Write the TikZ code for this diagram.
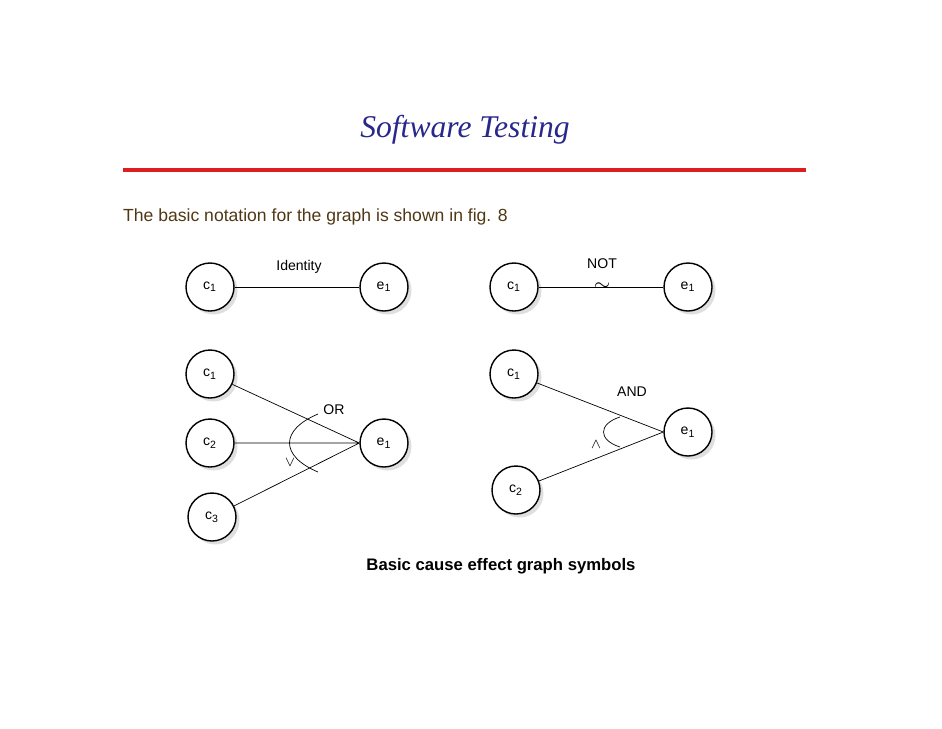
\documentclass[tikz,border=0pt]{standalone}
\usepackage{fontspec}
\setmainfont{Liberation Sans}
\newfontfamily\titlefont{Liberation Serif}
\usetikzlibrary{shadows, positioning}
\definecolor{titleblue}{RGB}{40,40,140}
\definecolor{notered}{RGB}{220,30,30}
\definecolor{introbrown}{RGB}{80,55,20}

\begin{document}
\begin{tikzpicture}[x=0.02cm, y=-0.02cm,
  gnode/.style={circle, draw, thick, fill=white, minimum size=0.96cm, inner sep=0pt,
    font=\fontsize{8}{9}\selectfont,
    drop shadow={shadow xshift=2pt, shadow yshift=-2pt, fill=black!25}},
  glabel/.style={font=\fontsize{8}{9}\selectfont}]

\useasboundingbox (0,0) rectangle (942,728);

% heading and rule
\node[text=titleblue, font=\titlefont\itshape\fontsize{18}{20}\selectfont] (title) at (465,130) {Software Testing};
\draw[notered, line width=2.2pt] (123,170) -- (806,170);
\node[anchor=west, text=introbrown, font=\fontsize{10}{12}\selectfont] (intro) at (117,217) {The basic notation for the graph is shown in fig. 8};

% identity
\node[gnode] (ic1) at (210,287) {c\textsubscript{1}};
\node[gnode] (ie1) at (384,287) {e\textsubscript{1}};
\draw (ic1) -- (ie1);
\node[glabel] (idlab) at (299,267) {Identity};

% not
\node[gnode] (nc1) at (514,287) {c\textsubscript{1}};
\node[gnode] (ne1) at (688,287) {e\textsubscript{1}};
\draw (nc1) -- (ne1);
\node[glabel, inner sep=0pt] (notlab) at (602,264) {NOT};
\node[font=\fontsize{12}{12}\selectfont, inner sep=0pt] (tilde) at (602,287) {$\sim$};

% or
\node[gnode] (oc1) at (210,374) {c\textsubscript{1}};
\node[gnode] (oc2) at (210,443) {c\textsubscript{2}};
\node[gnode] (oc3) at (212,517) {c\textsubscript{3}};
\node[gnode] (oe1) at (384,443) {e\textsubscript{1}};
\draw (oc1) -- (oe1.west) (oc2) -- (oe1.west) (oc3) -- (oe1.west);
\draw (318,414) .. controls (280,430) and (280,456) .. (318,472);
\node[glabel] (orlab) at (334,410) {OR};
\node[glabel] (orsym) at (290,463) {$\vee$};

% and
\node[gnode] (ac1) at (514,374) {c\textsubscript{1}};
\node[gnode] (ac2) at (516,490) {c\textsubscript{2}};
\node[gnode] (ae1) at (688,432) {e\textsubscript{1}};
\draw (ac1) -- (ae1.west) (ac2) -- (ae1.west);
\draw (620,417) .. controls (598,424) and (598,440) .. (620,447);
\node[glabel] (andlab) at (632,392) {AND};
\node[glabel] (andsym) at (596,445) {$\wedge$};

% caption
\node[font=\bfseries\fontsize{9.5}{11}\selectfont] (caption) at (501,566) {Basic cause effect graph symbols};

\end{tikzpicture}
\end{document}
